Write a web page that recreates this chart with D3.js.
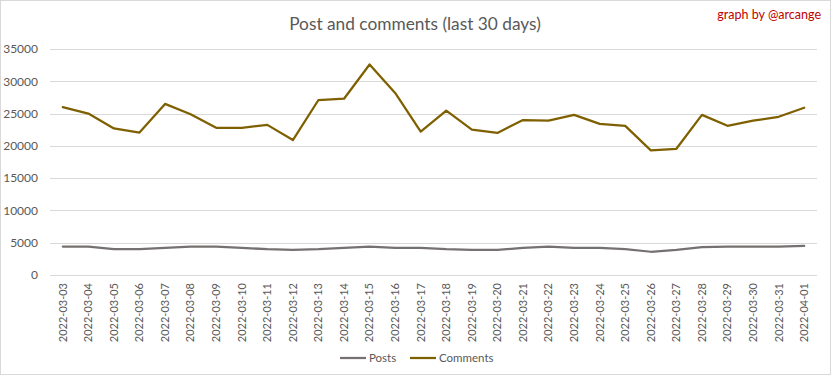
<!DOCTYPE html>
<html>
<head>
<meta charset="utf-8">
<script src="https://cdn.jsdelivr.net/npm/d3@7"></script>
<style>
  html, body { margin: 0; padding: 0; background: #fff; }
  svg { display: block; }
</style>
</head>
<body>
<div id="chart"></div>
<script>
const dates = [
  "2022-03-03", "2022-03-04", "2022-03-05", "2022-03-06", "2022-03-07",
  "2022-03-08", "2022-03-09", "2022-03-10", "2022-03-11", "2022-03-12",
  "2022-03-13", "2022-03-14", "2022-03-15", "2022-03-16", "2022-03-17",
  "2022-03-18", "2022-03-19", "2022-03-20", "2022-03-21", "2022-03-22",
  "2022-03-23", "2022-03-24", "2022-03-25", "2022-03-26", "2022-03-27",
  "2022-03-28", "2022-03-29", "2022-03-30", "2022-03-31", "2022-04-01"
];
const posts = [
  4400, 4400, 4000, 4000, 4200, 4400, 4400, 4200, 4000, 3900,
  4000, 4200, 4400, 4200, 4200, 4000, 3900, 3900, 4200, 4400,
  4200, 4200, 4000, 3600, 3900, 4300, 4400, 4400, 4400, 4500
];
const comments = [
  26000, 25000, 22700, 22050, 26500, 24900, 22800, 22800, 23250, 20900,
  27100, 27300, 32600, 28200, 22200, 25450, 22500, 22000, 24000, 23900,
  24800, 23400, 23100, 19300, 19550, 24800, 23100, 23900, 24500, 25900
];
const yTicks = [0, 5000, 10000, 15000, 20000, 25000, 30000, 35000];

const width = 832, height = 378;
const margin = { top: 49, right: 15, bottom: 103, left: 50 };
const font = "Lato, 'Open Sans', sans-serif";
const textColor = "#595959";

const svg = d3.select("#chart").append("svg")
  .attr("width", width)
  .attr("height", height);

// chart border
svg.append("rect")
  .attr("x", 0.5).attr("y", 0.5)
  .attr("width", width - 2).attr("height", height - 4)
  .attr("fill", "#fff")
  .attr("stroke", "#d9d9d9");

const x = d3.scaleBand()
  .domain(dates)
  .range([margin.left, width - margin.right]);

const y = d3.scaleLinear()
  .domain([0, 35000])
  .range([height - margin.bottom, margin.top]);

// gridlines
svg.append("g")
  .selectAll("line")
  .data(yTicks)
  .join("line")
  .attr("x1", margin.left)
  .attr("x2", width - margin.right)
  .attr("y1", d => Math.round(y(d)) + 0.5)
  .attr("y2", d => Math.round(y(d)) + 0.5)
  .attr("stroke", "#d9d9d9")
  .attr("stroke-width", 1);

// y axis labels
const yAxis = svg.append("g")
  .attr("transform", `translate(${margin.left},0)`)
  .call(d3.axisLeft(y).tickValues(yTicks).tickSize(0).tickPadding(12).tickFormat(d3.format("d")));
yAxis.select(".domain").remove();
yAxis.selectAll("text")
  .attr("fill", textColor)
  .attr("font-family", font)
  .attr("font-size", 12);

// x axis labels
const xAxis = svg.append("g")
  .attr("transform", `translate(0,${height - margin.bottom})`)
  .call(d3.axisBottom(x).tickSize(0).tickPadding(0));
xAxis.select(".domain").remove();
xAxis.selectAll("text")
  .attr("fill", textColor)
  .attr("font-family", font)
  .attr("font-size", 11)
  .attr("transform", "rotate(-90)")
  .attr("text-anchor", "end")
  .attr("dy", "0.35em")
  .attr("x", -8)
  .attr("y", 0);

const line = d3.line()
  .x((d, i) => x(dates[i]) + x.bandwidth() / 2)
  .y(d => y(d));

const series = [
  { name: "Posts", values: posts, color: "#767171" },
  { name: "Comments", values: comments, color: "#7f6000" }
];

svg.append("g")
  .selectAll("path")
  .data(series)
  .join("path")
  .attr("d", d => line(d.values))
  .attr("fill", "none")
  .attr("stroke", d => d.color)
  .attr("stroke-width", 2.25)
  .attr("stroke-linejoin", "round")
  .attr("stroke-linecap", "round");

// title
svg.append("text")
  .attr("x", 415)
  .attr("y", 30)
  .attr("text-anchor", "middle")
  .attr("font-family", font)
  .attr("font-size", 17.3)
  .attr("fill", textColor)
  .text("Post and comments (last 30 days)");

svg.append("text")
  .attr("x", 821)
  .attr("y", 19)
  .attr("text-anchor", "end")
  .attr("font-family", font)
  .attr("font-size", 12.5)
  .attr("fill", "#c00000")
  .text("graph by @arcange");

// legend
const legendX = [340, 410];
const legend = svg.append("g")
  .selectAll("g")
  .data(series)
  .join("g")
  .attr("transform", (d, i) => `translate(${legendX[i]},358)`);
legend.append("line")
  .attr("x1", 0).attr("x2", 26)
  .attr("stroke", d => d.color)
  .attr("stroke-width", 2.25);
legend.append("text")
  .attr("x", 29)
  .attr("dy", "0.35em")
  .attr("font-family", font)
  .attr("font-size", 11.5)
  .attr("fill", textColor)
  .text(d => d.name);
</script>
</body>
</html>
